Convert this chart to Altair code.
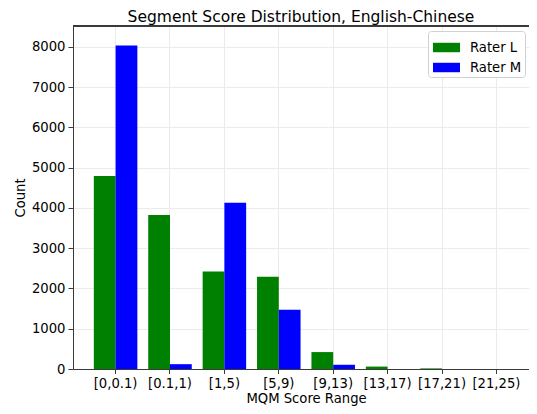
import altair as alt
import pandas as pd

categories = ["[0,0.1)", "[0.1,1)", "[1,5)", "[5,9)", "[9,13)", "[13,17)", "[17,21)", "[21,25)"]
raters = ["Rater L", "Rater M"]
rater_l = [4790, 3820, 2420, 2290, 420, 60, 15, 0]
rater_m = [8030, 120, 4130, 1470, 105, 0, 0, 0]
y_ticks = [0, 1000, 2000, 3000, 4000, 5000, 6000, 7000, 8000]

rows = []
for c, v in zip(categories, rater_l):
    rows.append({"range": c, "rater": raters[0], "count": v})
for c, v in zip(categories, rater_m):
    rows.append({"range": c, "rater": raters[1], "count": v})
df = pd.DataFrame(rows)

FONT = "DejaVu Sans"
SPINE = "#3a3a3a"
GRID = "#ebebeb"
FS = 13.2

bars = alt.Chart(df).mark_bar().encode(
    x=alt.X(
        "range:N",
        sort=categories,
        scale=alt.Scale(paddingInner=0.2, paddingOuter=0.383, range=[0, 466]),
        axis=alt.Axis(
            title="MQM Score Range",
            labelAngle=0,
            bandPosition=0.5,
            grid=True,
            gridColor=GRID,
            gridWidth=1,
            domainColor=SPINE,
            tickColor=SPINE,
            tickSize=4.5,
            labelPadding=3.5,
            labelFontSize=FS,
            titleFontSize=FS,
            titlePadding=3,
        ),
    ),
    xOffset=alt.XOffset("rater:N", sort=raters, scale=alt.Scale(paddingInner=0, paddingOuter=0)),
    y=alt.Y(
        "count:Q",
        scale=alt.Scale(domain=[0, 8515], nice=False),
        axis=alt.Axis(
            title="Count",
            values=y_ticks,
            format="d",
            grid=True,
            gridColor=GRID,
            gridWidth=1,
            domainColor=SPINE,
            tickColor=SPINE,
            tickSize=5,
            labelPadding=3,
            labelFontSize=FS,
            titleFontSize=FS,
            titlePadding=4,
        ),
    ),
    color=alt.Color(
        "rater:N",
        sort=raters,
        scale=alt.Scale(domain=raters, range=["#008000", "#0000ff"]),
        legend=alt.Legend(
            title=None,
            orient="none",
            legendX=355,
            legendY=5,
            symbolType="M-1,-0.35H1V0.35H-1Z",
            symbolSize=729,
            symbolStrokeWidth=0,
            symbolOffset=2,
            labelFontSize=FS,
            labelOffset=10,
            rowPadding=0,
            padding=3,
            strokeColor="#d0d0d0",
            fillColor="white",
            cornerRadius=3,
        ),
    ),
)

top_spine = alt.Chart(df).mark_rule(color=SPINE, strokeWidth=1).encode(y=alt.value(0))

chart = (
    alt.layer(bars, top_spine)
    .properties(
        width=456,
        height=343,
        title=alt.Title(
            "Segment Score Distribution, English-Chinese",
            fontSize=15.5,
            fontWeight="normal",
            offset=0,
            color="black",
        ),
        autosize=alt.AutoSizeParams(type="none"),
        padding={"left": 65, "top": 18, "right": 0, "bottom": 37},
    )
    .configure(font=FONT)
    .configure_view(stroke=None)
    .configure_axis(labelColor="black", titleColor="black", titleFontWeight="normal", labelFont=FONT, titleFont=FONT)
    .configure_legend(labelFont=FONT, labelColor="black")
)

chart.save("out.html", embed_options={"renderer": "svg", "actions": False})
